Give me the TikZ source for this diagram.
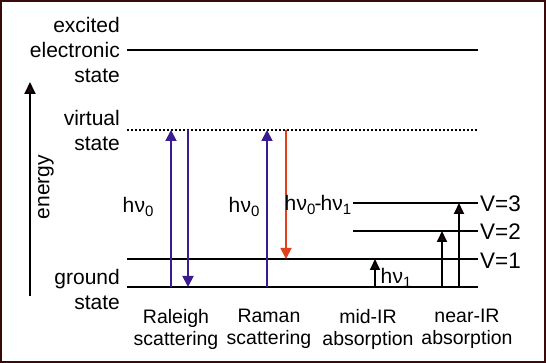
\documentclass[tikz,border=0pt]{standalone}
\usepackage{fontspec}
\setmainfont{Liberation Sans}
\usetikzlibrary{arrows.meta}
\definecolor{framec}{HTML}{3A0A0A}
\definecolor{purp}{HTML}{3B1C8E}
\definecolor{redc}{HTML}{E2401A}
\definecolor{tipc}{HTML}{2A0505}
\newcommand\hnu[1]{h\kern0.3ptν\raisebox{-0.35ex}{\fontsize{15pt}{15pt}\selectfont #1}}
\begin{document}
\begin{tikzpicture}[x=1pt,y=-1pt,
  level/.style={line width=1.8pt, line cap=butt},
  vlevel/.style={line width=1.6pt, dash pattern=on 1.6pt off 2.4pt},
  lbl/.style={font=\fontsize{21pt}{25pt}\selectfont, inner sep=0pt},
  vlbl/.style={font=\fontsize{22.5pt}{25pt}\selectfont, inner sep=0pt, anchor=west},
  blbl/.style={font=\fontsize{19.5pt}{22pt}\selectfont, inner sep=0pt, align=center},
  arr/.style={line width=1.8pt, -{Triangle[width=11pt,length=11pt]}},
  purparr/.style={arr, draw=purp, fill=purp},
  redarr/.style={arr, draw=redc, fill=redc},
  blkarr/.style={arr, draw=black, -{Triangle[width=10pt,length=11pt,fill=tipc]}},
]
\useasboundingbox (0,0) rectangle (546,363);
\fill[white] (0,0) rectangle (546,363);
\draw[framec, line width=2.2pt] (1.1,1.1) rectangle (544.9,361.9);

% level coordinates
\coordinate (exL) at (127,50);  \coordinate (exR) at (478,50);
\coordinate (viL) at (127,130); \coordinate (viR) at (478,130);
\coordinate (v3L) at (353,203); \coordinate (v3R) at (478,203);
\coordinate (v2L) at (353,231); \coordinate (v2R) at (478,231);
\coordinate (v1L) at (127,259); \coordinate (v1R) at (478,259);
\coordinate (grL) at (127,287); \coordinate (grR) at (478,287);

\draw[level] (exL) -- (exR);
\draw[vlevel] (viL) -- (viR);
\draw[level] (v3L) -- (v3R);
\draw[level] (v2L) -- (v2R);
\draw[level] (v1L) -- (v1R);
\draw[level] (grL) -- (grR);

% energy axis
\coordinate (enB) at (30,296);
\coordinate (enT) at (30,82);
\draw[line width=1.8pt, -{Triangle[width=11pt,length=12pt,fill=tipc]}] (enB) -- (enT);
\node[lbl, rotate=90] (energy) at (46,187) {energy};

% left labels
\node[lbl, anchor=east, align=right] (exlbl) at (120,50) {excited\\electronic\\state};
\node[lbl, anchor=east, align=right] (vilbl) at (120,130) {virtual\\state};
\node[lbl, anchor=east, align=right] (grlbl) at (120,289) {ground\\state};

% Raleigh
\coordinate (ra1s) at (171,287); \coordinate (ra1e) at (171,130);
\coordinate (ra2s) at (188,130); \coordinate (ra2e) at (188,287);
\draw[purparr] (ra1s) -- (ra1e);
\draw[purparr] (ra2s) -- (ra2e);
\node[lbl] (hnuA) at (138,207) {\hnu{0}};

% Raman
\coordinate (rm1s) at (267,287); \coordinate (rm1e) at (267,130);
\coordinate (rm2s) at (286,130); \coordinate (rm2e) at (286,259);
\draw[purparr] (rm1s) -- (rm1e);
\draw[redarr] (rm2s) -- (rm2e);
\node[lbl] (hnuB) at (244,207) {\hnu{0}};
\node[lbl] (hnuC) at (318,205) {\hnu{0}\kern-1pt-\kern-1pt\hnu{1}};

% mid-IR
\coordinate (miS) at (375,287); \coordinate (miE) at (375,259);
\draw[blkarr] (miS) -- (miE);
\node[lbl] (hnuD) at (396,278) {\hnu{1}};

% near-IR
\coordinate (ni1S) at (442,287); \coordinate (ni1E) at (442,231);
\coordinate (ni2S) at (459,287); \coordinate (ni2E) at (459,203);
\draw[blkarr] (ni1S) -- (ni1E);
\draw[blkarr] (ni2S) -- (ni2E);

% V labels
\node[vlbl] (V3) at (480,204) {V=3};
\node[vlbl] (V2) at (480,232) {V=2};
\node[vlbl] (V1) at (480,261) {V=1};

% bottom labels
\node[blbl] (raleigh) at (176,329) {Raleigh\\scattering};
\node[blbl] (raman) at (269,329) {Raman\\scattering};
\node[blbl] (midir) at (368,329) {mid-IR\\absorption};
\node[blbl] (nearir) at (467,329) {near-IR\\absorption};
\end{tikzpicture}
\end{document}
